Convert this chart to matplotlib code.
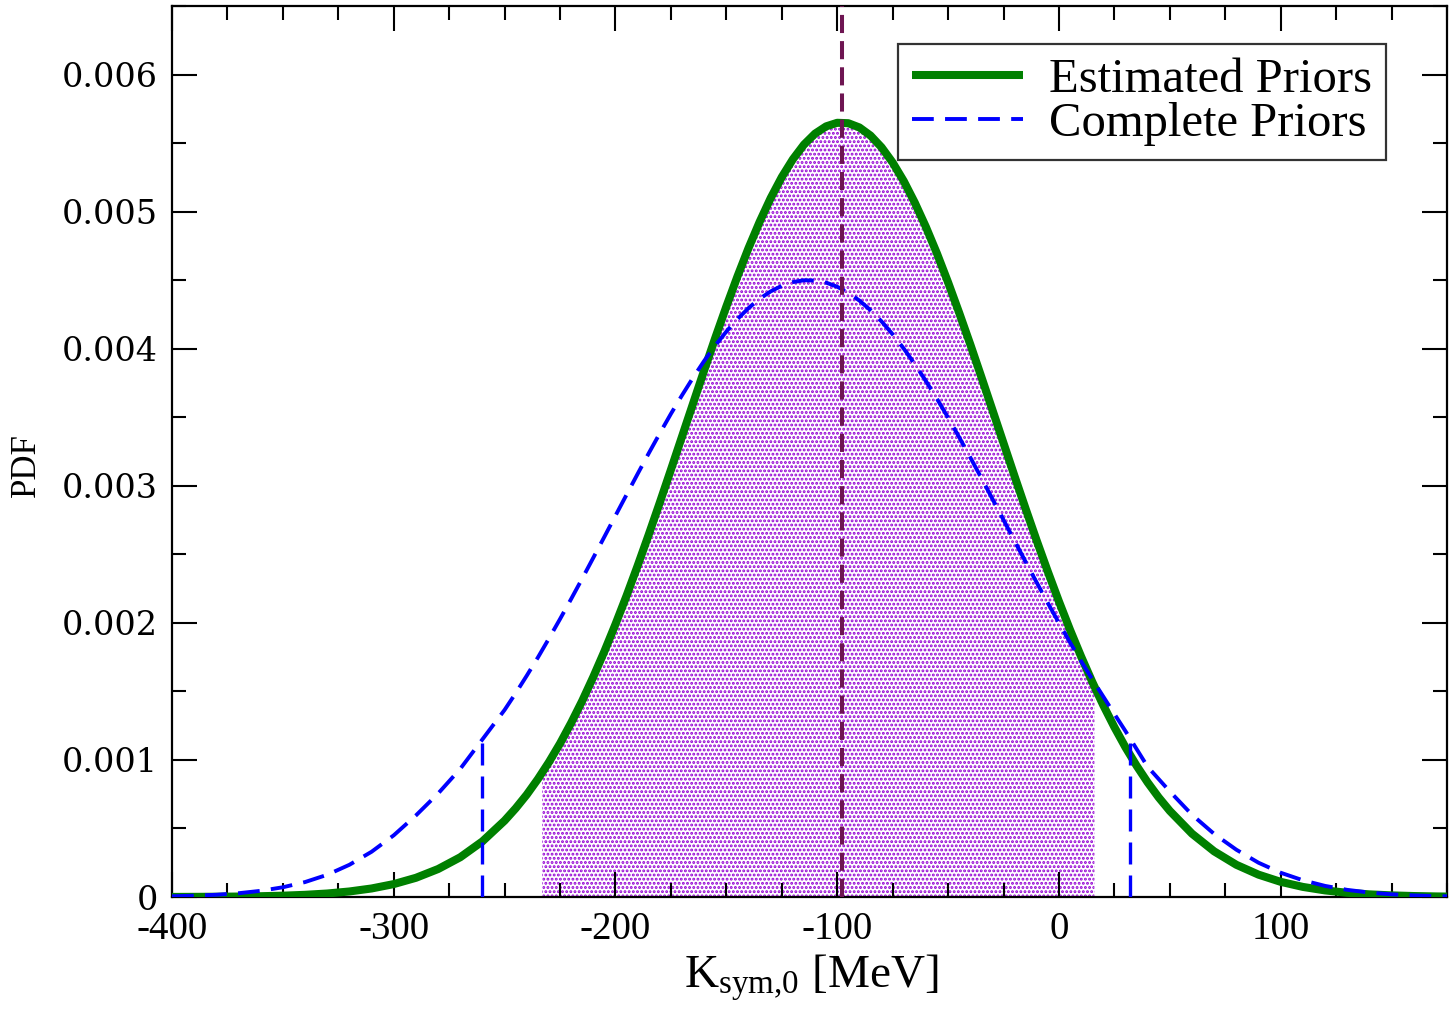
import matplotlib
matplotlib.use("Agg")
import matplotlib.pyplot as plt
import numpy as np

k_grid = (list(range(-400, -250, 10)) + list(range(-250, 50, 5))
          + list(range(50, 180, 10)) + [175])

# estimated priors (green, solid)
pdf_estimated = [
    # -400 .. -260 (step 10)
    6.0e-7, 1.1e-6, 1.9e-6, 3.4e-6, 5.8e-6, 9.7e-6, 1.59e-5, 2.55e-5, 4.03e-5, 6.22e-5,
    9.42e-5, 1.40e-4, 2.04e-4, 2.90e-4, 4.06e-4,
    # -250 .. 45 (step 5)
    5.57e-4, 6.47e-4, 7.47e-4, 8.60e-4, 9.84e-4, 1.120e-3, 1.270e-3, 1.431e-3,
    1.606e-3, 1.792e-3, 1.990e-3, 2.198e-3, 2.417e-3, 2.644e-3, 2.878e-3, 3.117e-3,
    3.359e-3, 3.601e-3, 3.842e-3, 4.079e-3, 4.308e-3, 4.527e-3, 4.734e-3, 4.925e-3,
    5.099e-3, 5.252e-3, 5.382e-3, 5.489e-3, 5.569e-3, 5.622e-3, 5.648e-3, 5.645e-3,
    5.614e-3, 5.555e-3, 5.469e-3, 5.358e-3, 5.223e-3, 5.065e-3, 4.888e-3, 4.694e-3,
    4.484e-3, 4.262e-3, 4.032e-3, 3.794e-3, 3.553e-3, 3.311e-3, 3.069e-3, 2.831e-3,
    2.598e-3, 2.373e-3, 2.156e-3, 1.949e-3, 1.754e-3, 1.570e-3, 1.398e-3, 1.239e-3,
    1.092e-3, 9.58e-4, 8.36e-4, 7.26e-4,
    # 50 .. 175
    6.28e-4, 4.62e-4, 3.33e-4, 2.35e-4, 1.63e-4, 1.106e-4, 7.36e-5, 4.81e-5, 3.07e-5,
    1.93e-5, 1.18e-5, 7.1e-6, 4.2e-6, 3.2e-6,
]

# complete priors (blue, dashed)
pdf_complete = [
    # -400 .. -260 (step 10)
    5.3e-6, 9.4e-6, 1.63e-5, 2.75e-5, 4.5e-5, 7.1e-5, 1.09e-4, 1.62e-4, 2.35e-4, 3.30e-4,
    4.50e-4, 5.95e-4, 7.55e-4, 9.35e-4, 1.150e-3,
    # -250 .. 45 (step 5)
    1.365e-3, 1.487e-3, 1.615e-3, 1.747e-3, 1.886e-3, 2.028e-3, 2.174e-3, 2.323e-3,
    2.475e-3, 2.628e-3, 2.782e-3, 2.935e-3, 3.087e-3, 3.237e-3, 3.383e-3, 3.525e-3,
    3.660e-3, 3.789e-3, 3.911e-3, 4.023e-3, 4.125e-3, 4.216e-3, 4.296e-3, 4.364e-3,
    4.418e-3, 4.459e-3, 4.486e-3, 4.499e-3, 4.497e-3, 4.482e-3, 4.452e-3, 4.408e-3,
    4.351e-3, 4.281e-3, 4.199e-3, 4.105e-3, 4.001e-3, 3.887e-3, 3.764e-3, 3.634e-3,
    3.497e-3, 3.354e-3, 3.207e-3, 3.057e-3, 2.904e-3, 2.751e-3, 2.597e-3, 2.444e-3,
    2.293e-3, 2.144e-3, 1.999e-3, 1.857e-3, 1.720e-3, 1.589e-3, 1.462e-3, 1.335e-3,
    1.210e-3, 1.080e-3, 9.50e-4, 8.60e-4,
    # 50 .. 175
    7.70e-4, 6.00e-4, 4.60e-4, 3.45e-4, 2.50e-4, 1.77e-4, 1.22e-4, 8.1e-5, 5.2e-5,
    3.25e-5, 1.95e-5, 1.15e-5, 6.6e-6, 5.0e-6,
]

# credible interval of the complete priors (x, height of the marker line)
complete_ci_x = [-260, 32]
complete_ci_h = [1.15e-3, 1.16e-3]

# shaded interval under the estimated priors (edges and curve height there)
shade_x = [-233, 16]
shade_h = [9.1e-4, 1.54e-3]

k_median = -98

xticks = [-400, -300, -200, -100, 0, 100]
xtick_labels = ["-400", "-300", "-200", "-100", "0", "100"]
yticks = [0, 0.001, 0.002, 0.003, 0.004, 0.005, 0.006]
ytick_labels = ["0", "0.001", "0.002", "0.003", "0.004", "0.005", "0.006"]

plt.rcParams["font.family"] = ["Liberation Serif", "DejaVu Serif"]
plt.rcParams["mathtext.fontset"] = "custom"
plt.rcParams["mathtext.rm"] = "Liberation Serif"
plt.rcParams["mathtext.it"] = "Liberation Serif:italic"
plt.rcParams["hatch.linewidth"] = 1.4
plt.rcParams["hatch.color"] = "#9400d3"

fig = plt.figure(figsize=(14.55, 10.23), dpi=100)
ax = fig.add_axes([172 / 1455, 1 - 897 / 1023, 1275 / 1455, 891 / 1023])

x = np.array(k_grid)
green = np.array(pdf_estimated)
blue = np.array(pdf_complete)

# dotted shading between the two interval edges, under the green curve
inside = (x > shade_x[0]) & (x < shade_x[1])
fx = np.concatenate([[shade_x[0]], x[inside], [shade_x[1]]])
fy = np.concatenate([[shade_h[0]], green[inside], [shade_h[1]]])
ax.fill_between(fx, 0, fy, facecolor="white", edgecolor="#9400d3",
                hatch="....", linewidth=0, zorder=1)

ax.plot(x, green, color="#008000", lw=5.8, solid_capstyle="butt",
        label="Estimated Priors", zorder=3)
ax.plot(x, blue, color="#0000ff", lw=2.8, dashes=(5.6, 2.9),
        label="Complete Priors", zorder=4)
for cx, ch in zip(complete_ci_x, complete_ci_h):
    ax.plot([cx, cx], [0, ch], color="#0000ff", lw=2.4, dashes=(6.6, 3.3), zorder=4)

ax.axvline(k_median, color="#6e1552", lw=2.9, dashes=(4.5, 2.0), zorder=5)

ax.set_xlim(-400, 175)
ax.set_ylim(0, 0.0065)

ax.set_xticks(xticks)
ax.set_xticklabels(xtick_labels, fontsize=28)
ax.set_xticks(np.arange(-400, 176, 25), minor=True)
ax.set_yticks(yticks)
ax.set_yticklabels(ytick_labels, fontsize=24, family="DejaVu Serif")
ax.set_yticks(np.arange(0, 0.0066, 0.0005), minor=True)

ax.tick_params(which="both", direction="in", top=True, right=True, width=1.5)
ax.tick_params(which="major", length=18)
ax.tick_params(which="minor", length=10)
ax.tick_params(axis="x", pad=10)
ax.tick_params(axis="y", pad=10)
for s in ax.spines.values():
    s.set_linewidth(1.6)

ax.set_xlabel(r"K$_{\rm sym{,}0}$ [MeV]", fontsize=34)
ax.xaxis.set_label_coords(0.501, -0.062)
ax.set_ylabel("PDF", fontsize=25)
ax.yaxis.set_label_coords(-0.101, 0.485)

leg = ax.legend(loc="upper right", bbox_to_anchor=(0.952, 0.957), fontsize=35,
                frameon=True, fancybox=False, handlelength=2.3, handletextpad=0.53,
                borderpad=0.28, labelspacing=0.0, borderaxespad=0)
leg.get_frame().set_edgecolor("black")
leg.get_frame().set_linewidth(1.6)

fig.savefig("out.png", dpi=100)
